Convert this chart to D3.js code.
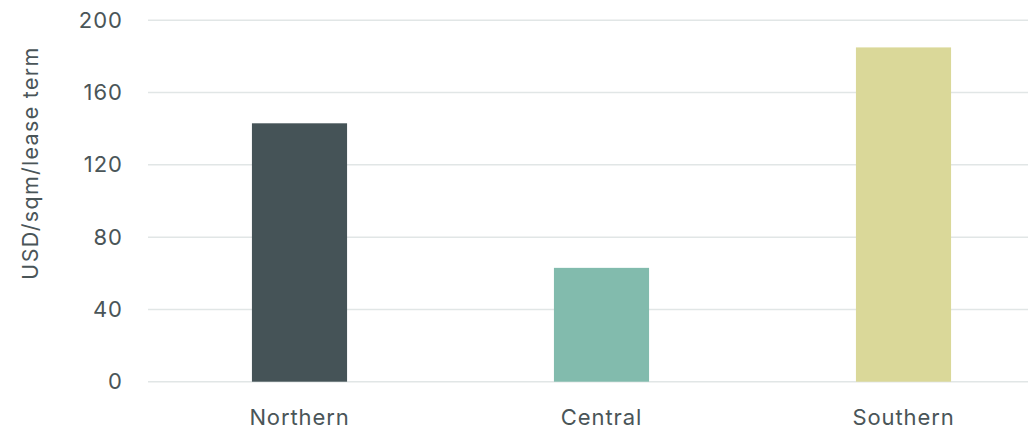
<!DOCTYPE html>
<html><head><meta charset="utf-8">
<script src="https://cdn.jsdelivr.net/npm/d3@7"></script>
<style>body{margin:0;background:#fff}svg{display:block}text{font-family:Inter,"Open Sans",sans-serif;fill:#4a5558}</style>
</head><body><svg id="c" width="1028" height="427"></svg>
<script>
const categories = ["Northern", "Central", "Southern"];
const values = [143, 63, 185];
const colors = ["#455357", "#82bbad", "#dad899"];
const yTicks = [0, 40, 80, 120, 160, 200];
const yTitle = "USD/sqm/lease term";

const svg = d3.select("#c");
const y = d3.scaleLinear().domain([0, 200]).range([381.7, 20.3]);
const x = d3.scaleBand().domain(categories).range([148.5, 1054.5]).paddingInner(0.685).paddingOuter(0.3425);

const grid = svg.append("g");
grid.selectAll("line").data(yTicks).join("line")
  .attr("x1", 148).attr("x2", 1028)
  .attr("y1", d => y(d)).attr("y2", d => y(d))
  .attr("stroke", "#e1e6e6").attr("stroke-width", 1.5);

const yAxis = d3.axisLeft(y).tickValues(yTicks).tickSize(0).tickPadding(0);
svg.append("g").attr("transform", "translate(123,0)").call(yAxis)
  .call(g => g.select(".domain").remove())
  .call(g => g.selectAll("text").attr("font-size", 22).attr("letter-spacing", 1).attr("fill", "#4a5558").style("font-family", "Inter,sans-serif"));

svg.append("g").selectAll("rect").data(values).join("rect")
  .attr("x", (d, i) => x(categories[i]))
  .attr("width", x.bandwidth())
  .attr("y", d => y(d))
  .attr("height", d => y(0) - y(d))
  .attr("fill", (d, i) => colors[i]);

const xAxis = d3.axisBottom(x).tickSize(0).tickPadding(0);
svg.append("g").attr("transform", "translate(0,409)").call(xAxis)
  .call(g => g.select(".domain").remove())
  .call(g => g.selectAll("text").attr("font-size", 22).attr("letter-spacing", 0.9).attr("fill", "#4a5558").attr("dy", "0.71em").style("font-family", "Inter,sans-serif"));

svg.append("text").attr("transform", "translate(38,163) rotate(-90)")
  .attr("text-anchor", "middle").attr("font-size", 21.5).attr("letter-spacing", 1.3).text(yTitle);
</script></body></html>
